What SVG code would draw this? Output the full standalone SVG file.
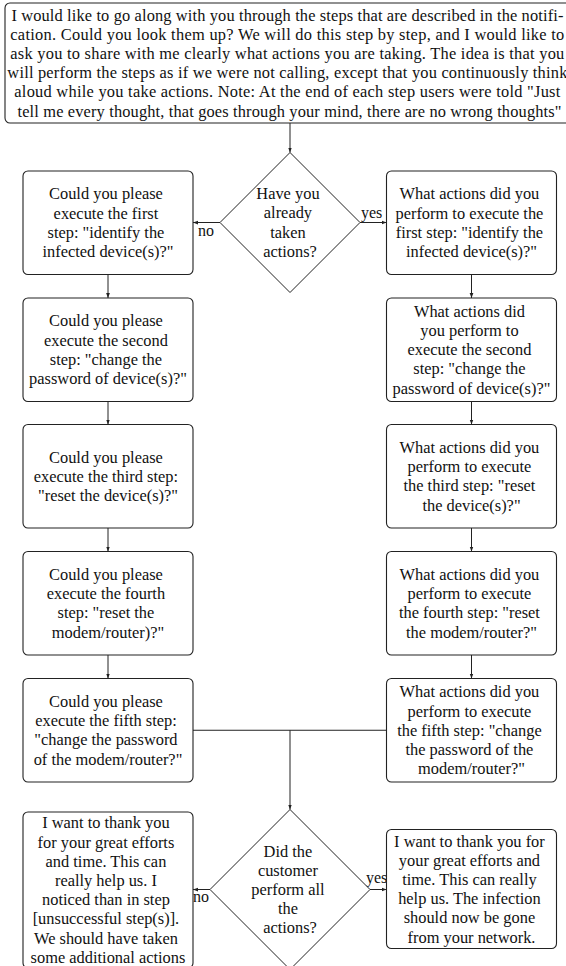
<svg xmlns="http://www.w3.org/2000/svg" width="566" height="966" viewBox="0 0 566 966">
<style>
.box{fill:#fff;stroke:#222;stroke-width:1.1}
.dia{fill:#fff;stroke:#222;stroke-width:1}
.t{font-family:"Liberation Serif","Times New Roman",serif;font-size:16.4px;fill:#111;text-anchor:middle}
.lbl{font-family:"Liberation Serif","Times New Roman",serif;font-size:16px;fill:#111}
.c{fill:none;stroke:#222;stroke-width:1}
</style>
<defs>
<marker id="arr" viewBox="0 0 8 8" refX="8" refY="4" markerWidth="5" markerHeight="5" orient="auto" markerUnits="userSpaceOnUse">
<path d="M0,1 L8,4 L0,7 z" fill="#222"/>
</marker>
</defs>
<rect width="566" height="966" fill="#fff"/>

<g id="connectors">
<path class="c" d="M290,123 V152.5" marker-end="url(#arr)"/>
<path class="c" d="M220,222.5 H193" marker-end="url(#arr)"/>
<path class="c" d="M360,222.5 H386.5" marker-end="url(#arr)"/>
<path class="c" d="M108,274.5 V298" marker-end="url(#arr)"/>
<path class="c" d="M108,401.5 V424.5" marker-end="url(#arr)"/>
<path class="c" d="M108,528 V551.5" marker-end="url(#arr)"/>
<path class="c" d="M108,655 V678.5" marker-end="url(#arr)"/>
<path class="c" d="M471.5,274.5 V298" marker-end="url(#arr)"/>
<path class="c" d="M471.5,401.5 V424.5" marker-end="url(#arr)"/>
<path class="c" d="M471.5,528 V551.5" marker-end="url(#arr)"/>
<path class="c" d="M471.5,655 V678.5" marker-end="url(#arr)"/>
<path class="c" d="M193,730.25 H386.5"/>
<path class="c" d="M290,730.25 V809.5" marker-end="url(#arr)"/>
<path class="c" d="M210,889.5 H193" marker-end="url(#arr)"/>
<path class="c" d="M370,889.5 H386.5" marker-end="url(#arr)"/>
<text class="lbl" x="198" y="236">no</text>
<text class="lbl" x="361" y="218">yes</text>
<text class="lbl" x="193" y="902">no</text>
<text class="lbl" x="366" y="883">yes</text>
</g>

<g id="intro">
<rect class="box" x="5" y="3" width="569" height="120" rx="5"/>
<text class="t">
<tspan x="289.5" y="20.5" textLength="552" lengthAdjust="spacing">I would like to go along with you through the steps that are described in the notifi-</tspan>
<tspan x="289.5" y="39.7" textLength="554" lengthAdjust="spacing">cation. Could you look them up? We will do this step by step, and I would like to</tspan>
<tspan x="289.5" y="58.9" textLength="554" lengthAdjust="spacing">ask you to share with me clearly what actions you are taking. The idea is that you</tspan>
<tspan x="289.5" y="78.1" textLength="560" lengthAdjust="spacing">will perform the steps as if we were not calling, except that you continuously think</tspan>
<tspan x="289.5" y="97.3" textLength="546" lengthAdjust="spacing">aloud while you take actions. Note: At the end of each step users were told "Just</tspan>
<tspan x="289.5" y="116.5" textLength="544" lengthAdjust="spacing">tell me every thought, that goes through your mind, there are no wrong thoughts"</tspan>
</text>
</g>

<g id="decision1">
<polygon class="dia" points="290,152.5 360,222.5 290,292.5 220,222.5"/>
<text class="t">
<tspan x="290" y="199.2">Have you</tspan>
<tspan x="290" y="218.4">already</tspan>
<tspan x="290" y="237.6">taken</tspan>
<tspan x="290" y="256.8">actions?</tspan>
</text>
</g>

<g id="left1">
<rect class="box" x="23" y="171" width="170" height="103.5" rx="5"/>
<text class="t">
<tspan x="108" y="199.45">Could you please</tspan>
<tspan x="108" y="218.65">execute the first</tspan>
<tspan x="108" y="237.85">step: "identify the</tspan>
<tspan x="108" y="257.05">infected device(s)?"</tspan>
</text>
</g>
<g id="left2">
<rect class="box" x="23" y="298" width="170" height="103.5" rx="5"/>
<text class="t">
<tspan x="108" y="326.45">Could you please</tspan>
<tspan x="108" y="345.65">execute the second</tspan>
<tspan x="108" y="364.85">step: "change the</tspan>
<tspan x="108" y="384.05">password of device(s)?"</tspan>
</text>
</g>
<g id="left3">
<rect class="box" x="23" y="424.5" width="170" height="103.5" rx="5"/>
<text class="t">
<tspan x="108" y="462.55">Could you please</tspan>
<tspan x="108" y="481.75">execute the third step:</tspan>
<tspan x="108" y="500.95">"reset the device(s)?"</tspan>
</text>
</g>
<g id="left4">
<rect class="box" x="23" y="551.5" width="170" height="103.5" rx="5"/>
<text class="t">
<tspan x="108" y="579.95">Could you please</tspan>
<tspan x="108" y="599.15">execute the fourth</tspan>
<tspan x="108" y="618.35">step: "reset the</tspan>
<tspan x="108" y="637.55">modem/router)?"</tspan>
</text>
</g>
<g id="left5">
<rect class="box" x="23" y="678.5" width="170" height="103.5" rx="5"/>
<text class="t">
<tspan x="108" y="706.95">Could you please</tspan>
<tspan x="108" y="726.15">execute the fifth step:</tspan>
<tspan x="108" y="745.35">"change the password</tspan>
<tspan x="108" y="764.55">of the modem/router?"</tspan>
</text>
</g>

<g id="right1">
<rect class="box" x="386.5" y="171" width="170" height="103.5" rx="5"/>
<text class="t">
<tspan x="471.5" y="199.45">What actions did you</tspan>
<tspan x="471.5" y="218.65">perform to execute the</tspan>
<tspan x="471.5" y="237.85">first step: "identify the</tspan>
<tspan x="471.5" y="257.05">infected device(s)?"</tspan>
</text>
</g>
<g id="right2">
<rect class="box" x="386.5" y="298" width="170" height="103.5" rx="5"/>
<text class="t">
<tspan x="471.5" y="316.85">What actions did</tspan>
<tspan x="471.5" y="336.05">you perform to</tspan>
<tspan x="471.5" y="355.25">execute the second</tspan>
<tspan x="471.5" y="374.45">step: "change the</tspan>
<tspan x="471.5" y="393.65">password of device(s)?"</tspan>
</text>
</g>
<g id="right3">
<rect class="box" x="386.5" y="424.5" width="170" height="103.5" rx="5"/>
<text class="t">
<tspan x="471.5" y="452.95">What actions did you</tspan>
<tspan x="471.5" y="472.15">perform to execute</tspan>
<tspan x="471.5" y="491.35">the third step: "reset</tspan>
<tspan x="471.5" y="510.55">the device(s)?"</tspan>
</text>
</g>
<g id="right4">
<rect class="box" x="386.5" y="551.5" width="170" height="103.5" rx="5"/>
<text class="t">
<tspan x="471.5" y="579.95">What actions did you</tspan>
<tspan x="471.5" y="599.15">perform to execute</tspan>
<tspan x="471.5" y="618.35">the fourth step: "reset</tspan>
<tspan x="471.5" y="637.55">the modem/router?"</tspan>
</text>
</g>
<g id="right5">
<rect class="box" x="386.5" y="678.5" width="170" height="103.5" rx="5"/>
<text class="t">
<tspan x="471.5" y="697.35">What actions did you</tspan>
<tspan x="471.5" y="716.55">perform to execute</tspan>
<tspan x="471.5" y="735.75">the fifth step: "change</tspan>
<tspan x="471.5" y="754.95">the password of the</tspan>
<tspan x="471.5" y="774.15">modem/router?"</tspan>
</text>
</g>

<g id="decision2">
<polygon class="dia" points="290,809.5 370,889.5 290,969.5 210,889.5"/>
<text class="t">
<tspan x="290" y="856.6">Did the</tspan>
<tspan x="290" y="875.8">customer</tspan>
<tspan x="290" y="895">perform all</tspan>
<tspan x="290" y="914.2">the</tspan>
<tspan x="290" y="933.4">actions?</tspan>
</text>
</g>

<g id="end-no">
<rect class="box" x="23" y="812" width="170" height="156" rx="5"/>
<text class="t">
<tspan x="108" y="828.3">I want to thank you</tspan>
<tspan x="108" y="847.5">for your great efforts</tspan>
<tspan x="108" y="866.7">and time. This can</tspan>
<tspan x="108" y="885.9">really help us. I</tspan>
<tspan x="108" y="905.1">noticed than in step</tspan>
<tspan x="108" y="924.3">[unsuccessful step(s)].</tspan>
<tspan x="108" y="943.5">We should have taken</tspan>
<tspan x="108" y="962.7">some additional actions</tspan>
</text>
</g>

<g id="end-yes">
<rect class="box" x="386.5" y="829.5" width="170" height="119" rx="5"/>
<text class="t">
<tspan x="471.5" y="846.5">I want to thank you for</tspan>
<tspan x="471.5" y="865.7">your great efforts and</tspan>
<tspan x="471.5" y="884.9">time. This can really</tspan>
<tspan x="471.5" y="904.1">help us. The infection</tspan>
<tspan x="471.5" y="923.3">should now be gone</tspan>
<tspan x="471.5" y="942.5">from your network.</tspan>
</text>
</g>
</svg>
